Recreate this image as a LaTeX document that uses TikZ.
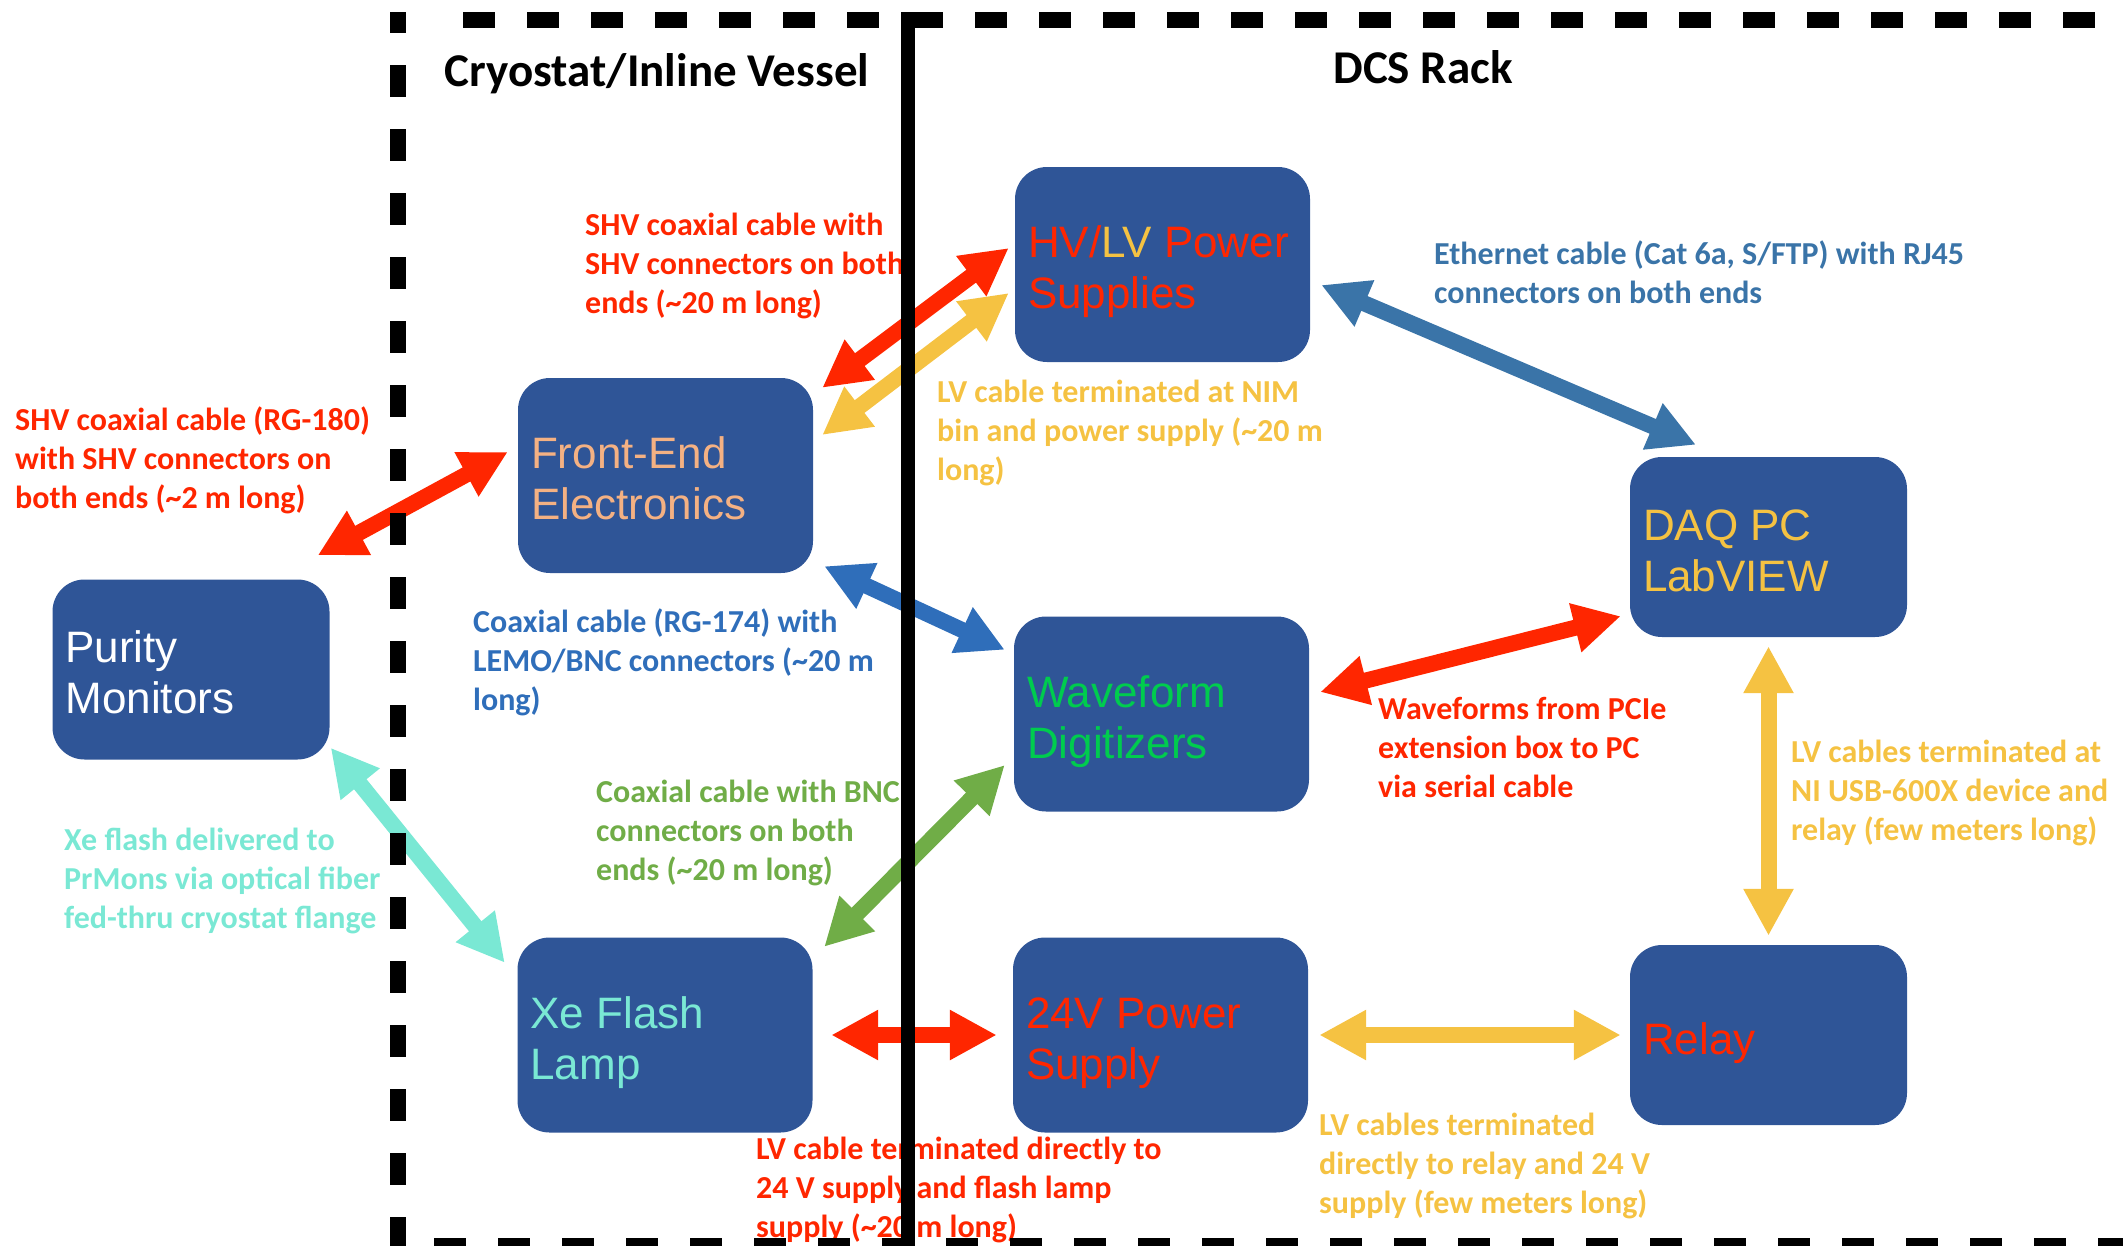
\documentclass[tikz,border=0pt]{standalone}
\usepackage{fontspec}
\setmainfont{Carlito}
\newfontfamily\boxfont{Liberation Sans}
\usetikzlibrary{arrows.meta,calc}

\definecolor{boxblue}{HTML}{2F5597}
\definecolor{cabred}{HTML}{FF2600}
\definecolor{cabyellow}{HTML}{F5C242}
\definecolor{peach}{HTML}{F4B183}
\definecolor{digigreen}{HTML}{00CC4E}
\definecolor{lampcyan}{HTML}{7AE8D4}
\definecolor{ethblue}{HTML}{3A74A8}
\definecolor{coaxblue}{HTML}{2F6EBA}
\definecolor{bncgreen}{HTML}{70AD47}

\begin{document}
\begin{tikzpicture}[x=1pt,y=-1pt,
  unit/.style={fill=boxblue, rounded corners=32pt, inner sep=0pt,
    minimum width=295pt, minimum height=195pt},
  smallunit/.style={unit, minimum width=277pt, minimum height=180pt},
  unitlabel/.style={anchor=base west, align=left, inner sep=0pt,
    font=\boxfont\fontsize{44}{51}\selectfont},
  note/.style={anchor=base west, align=left, inner sep=0pt,
    font=\bfseries\fontsize{32}{39}\selectfont},
  title/.style={anchor=base, inner sep=0pt,
    font=\bfseries\fontsize{47}{56}\selectfont},
  cable/.style={line width=16pt,
    {Triangle[length=47pt,width=47pt]}-{Triangle[length=47pt,width=47pt]}},
  zone/.style={line width=16pt, dash pattern=on 32pt off 32pt},
]
\useasboundingbox (0,0) rectangle (2123,1245);

% equipment boxes
\node[smallunit] (pm)  at (191,669.5)  {};
\node[unit]      (fe)  at (665.5,475.5) {};
\node[unit]      (hv)  at (1162.5,264.5) {};
\node[unit]      (wf)  at (1161.5,714) {};
\node[smallunit] (daq) at (1768.5,547) {};
\node[unit]      (xe)  at (665,1035) {};
\node[unit]      (ps)  at (1160.5,1035) {};
\node[smallunit] (rl)  at (1768.5,1035) {};

% box captions (anchored on the baseline of their last line)
\node[unitlabel, text=white]     (pm-t)  at ([shift={(13,44)}]pm.west)  {Purity\\Monitors};
\node[unitlabel, text=peach]     (fe-t)  at ([shift={(13,44)}]fe.west)  {Front-End\\Electronics};
\node[unitlabel, text=cabred]    (hv-t)  at ([shift={(13,44)}]hv.west)  {HV/\textcolor{cabyellow}{LV} Power\\Supplies};
\node[unitlabel, text=digigreen] (wf-t)  at ([shift={(13,44)}]wf.west)  {Waveform\\Digitizers};
\node[unitlabel, text=cabyellow] (daq-t) at ([shift={(13,44)}]daq.west) {DAQ PC\\LabVIEW};
\node[unitlabel, text=lampcyan]  (xe-t)  at ([shift={(13,44)}]xe.west)  {Xe Flash\\Lamp};
\node[unitlabel, text=cabred]    (ps-t)  at ([shift={(13,44)}]ps.west)  {24V Power\\Supply};
\node[unitlabel, text=cabred]    (rl-t)  at ([shift={(13,19)}]rl.west)  {Relay};

% cable descriptions (anchored on the baseline of their last line)
\node[note, text=cabred] (n-shv20) at (585,313)
  {SHV coaxial cable with\\SHV connectors on both\\ends (\textasciitilde20 m long)};
\node[note, text=cabred] (n-shv2) at (15,508)
  {SHV coaxial cable (RG-180)\\with SHV connectors on\\both ends (\textasciitilde2 m long)};
\node[note, text=cabyellow] (n-nim) at (937,480)
  {LV cable terminated at NIM\\bin and power supply (\textasciitilde20 m\\long)};
\node[note, text=ethblue] (n-eth) at (1434,303)
  {Ethernet cable (Cat 6a, S/FTP) with RJ45\\connectors on both ends};
\node[note, text=coaxblue] (n-lemo) at (473,710)
  {Coaxial cable (RG-174) with\\LEMO/BNC connectors (\textasciitilde20 m\\long)};
\node[note, text=bncgreen] (n-bnc) at (596,880)
  {Coaxial cable with BNC\\connectors on both\\ends (\textasciitilde20 m long)};
\node[note, text=lampcyan] (n-fiber) at (64,928)
  {Xe flash delivered to\\PrMons via optical fiber\\fed-thru cryostat flange};
\node[note, text=cabred] (n-pcie) at (1378,797)
  {Waveforms from PCIe\\extension box to PC\\via serial cable};
\node[note, text=cabyellow] (n-usb) at (1791,840)
  {LV cables terminated at\\NI USB-600X device and\\relay (few meters long)};
\node[note, text=cabred] (n-lamp) at (756,1237)
  {LV cable terminated directly to\\24 V supply and flash lamp\\supply (\textasciitilde20 m long)};
\node[note, text=cabyellow] (n-relay) at (1319,1213)
  {LV cables terminated\\directly to relay and 24 V\\supply (few meters long)};

% cables
\draw[cable, cabred]    ([shift={(-12,-24)}]pm.north east) -- ([shift={(-10,-23.5)}]fe.west);
\draw[cable, cabred]    ([shift={(9,10)}]fe.north east)    -- ([shift={(-6,-16.5)}]hv.west);
\draw[cable, cabyellow] ([shift={(9,-40.5)}]fe.east)       -- ([shift={(-6,28.5)}]hv.west);
\draw[cable, ethblue]   ([shift={(11,20.5)}]hv.east)       -- ([shift={(-72.5,-12)}]daq.north);
\draw[cable, coaxblue]  ([shift={(11,-7)}]fe.south east)   -- ([shift={(-9,33.5)}]wf.north west);
\draw[cable, bncgreen]  ([shift={(11.5,9.5)}]xe.north east) -- ([shift={(-9,51)}]wf.west);
\draw[cable, lampcyan]  ([shift={(1,-12)}]pm.south east)   -- ([shift={(-12.5,25.5)}]xe.north west);
\draw[cable, cabred]    ([shift={(11,-22)}]wf.east)        -- ([shift={(-9,-21)}]daq.south west);
\draw[cable, cabyellow] ([shift={(0,9)}]daq.south)         -- ([shift={(0,-9)}]rl.north);
\draw[cable, cabred]    ([shift={(18.5,0)}]xe.east)        -- ([shift={(-16,0)}]ps.west);
\draw[cable, cabyellow] ([shift={(11,0)}]ps.east)          -- ([shift={(-9,0)}]rl.west);

% zone titles
\node[title] (t-cryo) at (657,86) {Cryostat/Inline Vessel};
\node[title] (t-dcs)  at (1423,83) {DCS Rack};

% zone boundaries
\begin{scope}
  \clip (0,0) rectangle (2123,1245);
  \draw[zone, dash phase=11pt] (398,12) -- (398,1270);
  \draw[zone, dash phase=48pt] (447,19.5) -- (2150,19.5);
  \draw[zone, dash phase=28pt] (398,1246) -- (2150,1246);
  \draw[line width=14pt] (908,12) -- (908,1270);
\end{scope}
\end{tikzpicture}
\end{document}
